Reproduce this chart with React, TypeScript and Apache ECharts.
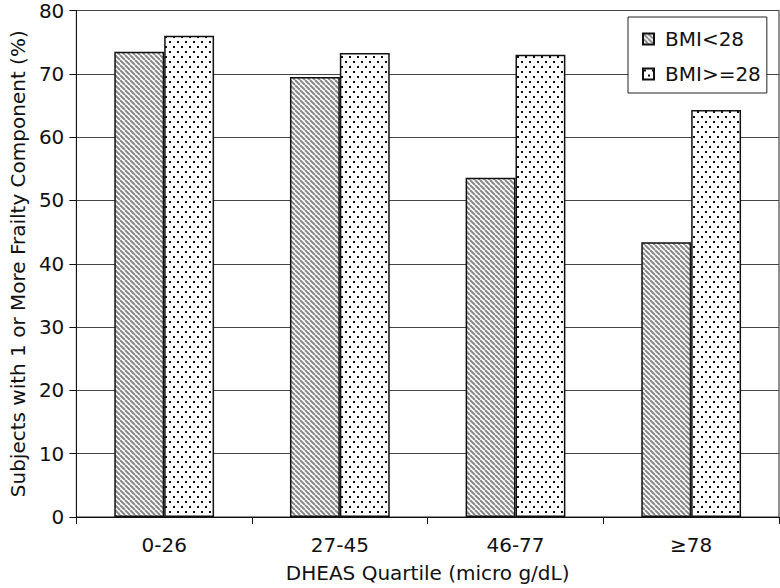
import React, { useEffect, useRef } from "react";
import * as echarts from "echarts";

const categories = ["0-26", "27-45", "46-77", "≥78"];
const bmiLow = [73.5, 69.5, 53.6, 43.4];
const bmiHigh = [76.0, 73.3, 73.0, 64.3];
const seriesNames = ["BMI<28", "BMI>=28"];
const yTicks = { min: 0, max: 80, interval: 10 };

const FONT = '"DejaVu Sans", Verdana, sans-serif';
const FS = 20;

function makeHatch(): HTMLCanvasElement {
  const s = 5;
  const c = document.createElement("canvas");
  c.width = s;
  c.height = s;
  const ctx = c.getContext("2d")!;
  ctx.fillStyle = "#ffffff";
  ctx.fillRect(0, 0, s, s);
  ctx.strokeStyle = "#888888";
  ctx.lineWidth = 2;
  for (const off of [-s, 0, s]) {
    ctx.beginPath();
    ctx.moveTo(off, 0);
    ctx.lineTo(off + s, s);
    ctx.stroke();
  }
  return c;
}

function makeDots(): HTMLCanvasElement {
  const w = 8;
  const h = 10;
  const c = document.createElement("canvas");
  c.width = w;
  c.height = h;
  const ctx = c.getContext("2d")!;
  ctx.fillStyle = "#ffffff";
  ctx.fillRect(0, 0, w, h);
  ctx.fillStyle = "#111111";
  ctx.fillRect(1, 1, 2, 2);
  ctx.fillRect(5, 6, 2, 2);
  return c;
}

export default function App() {
  const ref = useRef<HTMLDivElement>(null);
  useEffect(() => {
    if (!ref.current) return;
    const chart = echarts.init(ref.current, undefined, { renderer: "svg" });
    const hatch = { image: makeHatch(), repeat: "repeat" };
    const dots = { image: makeDots(), repeat: "repeat" };
    chart.setOption({
      animation: false,
      backgroundColor: "#ffffff",
      grid: {
        left: 74,
        right: 1,
        top: 10.5,
        bottom: 70,
        show: true,
        borderColor: "#222",
        borderWidth: 1,
      },
      legend: {
        orient: "vertical",
        left: 628,
        top: 17,
        padding: [12, 6, 9, 14],
        itemGap: 15,
        itemWidth: 11,
        itemHeight: 11,
        icon: "rect",
        backgroundColor: "#ffffff",
        borderColor: "#222",
        borderWidth: 1,
        textStyle: { fontFamily: FONT, fontSize: FS, color: "#111", padding: [0, 0, 0, 6] },
        data: seriesNames,
      },
      xAxis: {
        type: "category",
        data: categories,
        name: "DHEAS Quartile (micro g/dL)",
        nameLocation: "middle",
        nameGap: 46,
        nameTextStyle: { fontFamily: FONT, fontSize: FS, color: "#111" },
        axisLine: { lineStyle: { color: "#111", width: 1 } },
        axisTick: { show: true, length: 7, lineStyle: { color: "#111" } },
        axisLabel: { fontFamily: FONT, fontSize: FS, color: "#111", margin: 18 },
      },
      yAxis: {
        type: "value",
        min: yTicks.min,
        max: yTicks.max,
        interval: yTicks.interval,
        name: "Subjects with 1 or More Frailty Component (%)",
        nameLocation: "middle",
        nameGap: 47,
        nameTextStyle: { fontFamily: FONT, fontSize: FS, color: "#111" },
        axisLine: { show: true, lineStyle: { color: "#111", width: 1 } },
        axisTick: { show: true, length: 7, lineStyle: { color: "#111" } },
        axisLabel: { fontFamily: FONT, fontSize: FS, color: "#111", margin: 12 },
        splitLine: { show: true, lineStyle: { color: "#444", width: 1 } },
      },
      series: [
        {
          name: seriesNames[0],
          type: "bar",
          data: bmiLow,
          barWidth: "28.4%",
          barGap: "0%",
          itemStyle: { color: hatch, borderColor: "#111", borderWidth: 1.5 },
        },
        {
          name: seriesNames[1],
          type: "bar",
          data: bmiHigh,
          barWidth: "28.4%",
          barGap: "0%",
          itemStyle: { color: dots, borderColor: "#111", borderWidth: 1.5 },
        },
      ],
    });
    return () => chart.dispose();
  }, []);
  return (
    <div
      ref={ref}
      style={{ position: "absolute", left: 0, top: 0, width: 780, height: 588 }}
    />
  );
}
